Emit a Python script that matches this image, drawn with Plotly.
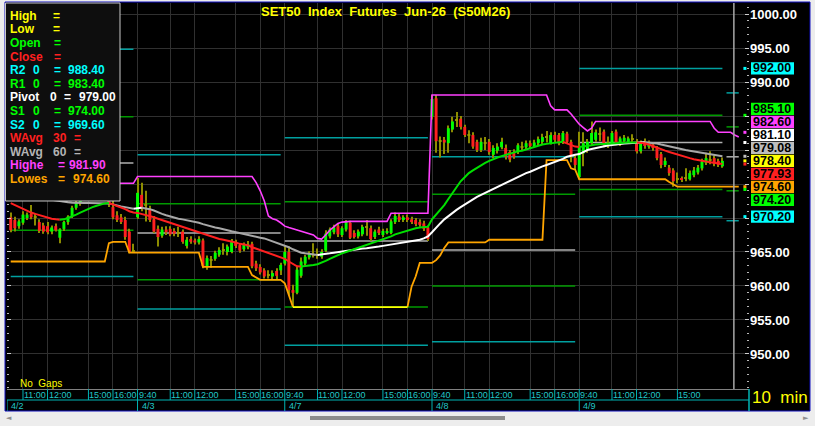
import plotly.graph_objects as go

# ---------------- values ----------------
first_bar = 5                      # first visible 10-min bar (bar 0 = 4/2 9:40)
bars_per_session = 36
session_dates = ['4/2', '4/3', '4/7', '4/8', '4/9']
time_tick_bar = {'9:40': 0, '11:00': 8, '12:00': 14, '15:00': 24, '16:00': 30}
session_time_ticks = [
    ['11:00', '12:00', '15:00', '16:00'],
    ['9:40', '11:00', '12:00', '15:00', '16:00'],
    ['9:40', '11:00', '12:00', '15:00', '16:00'],
    ['9:40', '11:00', '12:00', '15:00', '16:00'],
    ['9:40', '11:00', '12:00', '15:00'],
]

opens = [
    970.1, 969.7, 968.8, 969.3, 970.0, 970.6, 970.1, 969.4, 968.9, 968.8,
    968.0, 968.8, 967.1, 968.4, 969.4, 970.3, 971.5, 972.2, 973.0, 973.8,
    974.3, 974.0, 974.6, 974.1, 973.2, 971.6, 970.4, 970.1, 969.7, 968.0, 965.1,
    970.1, 973.4, 971.9, 971.3, 969.8, 968.4, 967.4, 968.3, 968.4, 968.1,
    967.7, 968.0, 965.9, 966.9, 966.7, 966.4, 966.7, 962.8, 963.8, 964.0,
    964.6, 965.3, 965.0, 965.0, 966.5, 966.0, 965.4, 965.7, 966.2, 963.3,
    962.8, 962.3, 961.5, 961.4, 962.2, 962.3,
    963.3, 965.0, 959.4, 959.0, 961.5, 963.3, 964.2, 964.5, 964.6, 964.3,
    965.2, 967.3, 967.9, 968.8, 967.5, 968.3, 969.3, 967.8, 967.3, 967.6,
    968.6, 968.5, 967.2, 968.3, 967.5, 967.8, 967.8, 969.4, 970.2, 969.7,
    970.1, 969.8, 969.7, 969.4, 969.2, 968.6,
    984.9, 987.6, 981.3, 981.5, 981.0, 983.0, 984.3, 984.6, 983.4, 982.3,
    982.2, 981.2, 980.0, 981.0, 981.2, 979.3, 979.9, 980.4, 980.3, 979.7,
    979.6, 979.7, 980.3, 980.4, 981.0, 980.6, 981.0, 981.2, 981.8, 981.0,
    982.2, 982.2, 981.2, 982.4, 981.2, 978.8,
    976.0, 979.5, 980.0, 981.0, 981.5, 982.4, 982.7, 981.0, 981.0, 982.7,
    981.0, 981.3, 981.2, 981.6, 981.2, 979.8, 981.1, 980.5, 980.8, 980.3,
    979.4, 977.8, 977.4, 977.0, 975.6, 975.8, 975.8, 975.7, 976.3, 976.7,
    977.3, 978.1, 978.6, 978.8, 978.4, 977.6,
]
highs = [
    970.8, 970.2, 969.8, 971.0, 970.8, 971.9, 970.7, 969.8, 969.3, 969.4,
    968.9, 969.2, 968.5, 969.6, 970.4, 971.8, 972.6, 973.4, 974.2, 974.8,
    975.1, 974.9, 975.0, 974.6, 973.6, 972.8, 971.0, 970.6, 970.2, 968.4, 966.2,
    975.9, 975.2, 974.0, 971.8, 970.3, 968.9, 968.7, 968.8, 968.8, 968.5,
    968.7, 968.3, 967.2, 967.3, 967.0, 967.3, 967.0, 964.5, 964.4, 965.2,
    965.7, 966.3, 966.1, 966.9, 966.8, 966.3, 966.4, 966.6, 966.5, 963.7,
    963.2, 962.6, 962.3, 962.3, 962.6, 963.4,
    966.0, 965.8, 960.2, 962.8, 964.2, 964.6, 965.1, 966.3, 965.5, 965.4,
    968.2, 968.6, 969.0, 969.1, 968.8, 969.7, 969.6, 968.2, 968.3, 969.0,
    969.7, 968.9, 968.3, 968.7, 968.4, 968.5, 969.8, 970.8, 970.6, 970.4,
    970.5, 970.2, 970.0, 969.8, 969.6, 968.9,
    988.1, 988.1, 982.0, 981.9, 983.6, 984.9, 985.6, 985.0, 983.7, 982.9,
    982.6, 981.5, 981.8, 981.9, 981.6, 980.7, 981.0, 981.8, 980.8, 980.0,
    980.1, 981.0, 981.2, 981.4, 981.4, 981.5, 982.0, 982.4, 982.8, 982.6,
    982.7, 982.5, 982.8, 982.7, 981.5, 979.2,
    982.7, 982.6, 981.6, 984.2, 983.0, 983.3, 983.0, 982.0, 982.8, 983.0,
    982.0, 982.2, 982.0, 982.3, 981.6, 981.4, 981.7, 981.4, 981.1, 980.6,
    979.7, 978.9, 977.8, 977.3, 976.7, 976.1, 977.3, 977.0, 977.5, 977.8,
    978.7, 979.6, 979.8, 979.2, 978.7, 978.9,
]
lows = [
    967.9, 968.0, 968.4, 969.0, 969.7, 969.8, 968.9, 967.8, 967.7, 967.6,
    967.6, 968.0, 966.3, 968.1, 969.0, 970.0, 971.2, 971.8, 972.6, 973.2,
    973.6, 973.4, 973.8, 972.8, 971.6, 969.8, 969.4, 969.1, 966.8, 964.8, 964.9,
    969.9, 971.0, 969.5, 969.4, 967.8, 965.8, 967.1, 967.5, 967.3, 967.3,
    967.2, 966.2, 965.5, 966.2, 966.1, 966.1, 962.6, 962.4, 962.7, 963.7,
    964.3, 964.6, 964.5, 964.8, 965.6, 964.9, 965.1, 965.4, 962.6, 962.2,
    961.7, 961.1, 961.1, 961.0, 960.9, 961.6,
    963.0, 958.6, 956.9, 958.8, 961.2, 963.0, 963.9, 964.2, 964.0, 964.0,
    965.0, 967.0, 967.6, 967.2, 967.2, 968.0, 966.9, 967.0, 967.0, 967.3,
    967.4, 966.6, 966.9, 967.5, 967.2, 967.6, 967.6, 969.1, 969.4, 969.4,
    969.4, 969.1, 968.8, 968.7, 968.1, 966.6,
    984.5, 979.6, 978.9, 979.4, 979.6, 982.6, 983.4, 983.0, 981.9, 981.0,
    980.2, 979.7, 979.7, 980.0, 979.3, 978.8, 979.5, 980.1, 978.6, 978.2,
    978.7, 979.4, 979.9, 980.1, 980.3, 980.4, 980.7, 980.9, 981.1, 980.8,
    981.1, 980.7, 980.9, 980.9, 978.2, 977.2,
    975.7, 977.6, 979.6, 980.7, 981.2, 981.3, 980.4, 980.3, 980.7, 980.7,
    980.6, 981.0, 980.9, 980.9, 979.5, 979.5, 980.2, 980.2, 979.9, 978.5,
    977.3, 977.5, 976.2, 974.6, 975.1, 975.3, 975.4, 975.5, 976.0, 976.4,
    977.0, 977.8, 977.9, 977.6, 977.5, 977.4,
]
closes = [
    968.2, 968.5, 969.5, 970.5, 970.5, 970.1, 970.0, 968.1, 968.0, 967.9,
    968.6, 968.2, 968.3, 969.4, 970.2, 971.5, 972.2, 973.0, 973.8, 974.3,
    974.0, 974.6, 974.1, 973.2, 972.0, 970.1, 969.7, 969.4, 967.2, 965.0, 965.2,
    973.7, 971.6, 972.0, 969.7, 968.0, 967.2, 968.3, 967.9, 967.6, 967.7,
    967.8, 966.5, 966.8, 966.5, 966.4, 966.9, 962.9, 964.1, 963.7, 964.9,
    965.3, 965.2, 965.8, 966.6, 965.9, 965.2, 966.1, 966.1, 962.9, 962.6,
    962.0, 961.4, 961.6, 961.9, 961.5, 963.1,
    965.0, 959.4, 959.0, 962.4, 963.6, 964.3, 964.7, 964.6, 964.5, 965.0,
    967.7, 968.3, 968.6, 967.6, 968.5, 969.4, 967.1, 967.2, 968.0, 968.7,
    968.7, 966.9, 968.0, 967.8, 968.1, 968.0, 969.5, 970.3, 969.7, 970.1,
    969.7, 969.4, 969.1, 969.0, 968.4, 966.9,
    987.5, 981.3, 981.2, 981.1, 983.2, 984.2, 984.4, 983.4, 982.2, 982.2,
    980.5, 980.0, 981.2, 981.0, 979.7, 980.3, 980.5, 981.2, 979.0, 978.6,
    979.0, 980.7, 980.4, 981.0, 980.6, 981.1, 981.6, 981.9, 981.9, 982.2,
    981.5, 981.0, 982.5, 981.2, 979.0, 977.8,
    980.5, 981.0, 981.2, 982.5, 982.6, 982.3, 980.7, 981.1, 982.5, 981.0,
    981.7, 981.8, 981.7, 981.5, 979.8, 981.0, 980.6, 980.8, 980.3, 978.8,
    977.8, 978.4, 976.6, 975.4, 975.7, 975.6, 975.9, 976.6, 977.0, 977.4,
    978.3, 978.8, 978.5, 978.0, 977.8, 978.4,
]
wavg30 = [
    972.2, 971.9, 971.6, 971.3, 971.0, 970.8, 970.6, 970.4, 970.2, 970.0,
    969.9, 969.8, 969.75, 969.8, 970.0, 970.2, 970.5, 970.8, 971.1, 971.4,
    971.6, 971.8, 972.0, 972.15, 972.2, 972.0, 971.8, 971.6, 971.3, 971.0,
    970.8, 970.75, 970.6, 970.5, 970.3, 970.1, 969.9, 969.7, 969.5, 969.3,
    969.1, 968.9, 968.7, 968.5, 968.3, 968.1, 967.9, 967.6, 967.4, 967.2,
    967.0, 966.9, 966.8, 966.7, 966.5, 966.4, 966.2, 966.1, 966.0, 965.7,
    965.5, 965.3, 965.0, 964.8, 964.6, 964.4, 964.2, 964.0, 963.6, 963.2,
    962.9, 962.85, 962.9, 963.0, 963.1, 963.2, 963.4, 963.7, 964.0, 964.3,
    964.5, 964.8, 965.0, 965.2, 965.4, 965.6, 965.8, 966.0, 966.2, 966.4,
    966.7, 966.9, 967.1, 967.3, 967.6, 967.8, 968.0, 968.2, 968.4, 968.5,
    968.6, 968.7, 968.7, 969.8, 970.5, 971.2, 971.9, 972.8, 973.7, 974.6,
    975.4, 976.0, 976.6, 977.0, 977.4, 977.8, 978.1, 978.4, 978.7, 978.9,
    979.1, 979.3, 979.5, 979.6, 979.8, 979.9, 980.1, 980.3, 980.4, 980.6,
    980.8, 980.9, 981.0, 981.1, 981.15, 981.2, 981.0, 980.7, 980.5, 980.45,
    980.5, 980.55, 980.7, 980.8, 980.85, 980.85, 980.9, 980.95, 981.0, 981.0,
    981.05, 981.1, 981.1, 981.1, 981.05, 981.0, 980.8, 980.55, 980.3, 980.1,
    979.9, 979.7, 979.5, 979.3, 979.1, 978.95, 978.8, 978.65, 978.5, 978.4,
    978.3, 978.2, 978.1, 978.0, 977.93,
]
wavg60 = [
    973.6, 973.5, 973.4, 973.3, 973.2, 973.1, 973.0, 972.9, 972.8, 972.7,
    972.6, 972.5, 972.4, 972.35, 972.3, 972.25, 972.2, 972.2, 972.2, 972.2,
    972.2, 972.2, 972.2, 972.2, 972.15, 972.0, 971.8, 971.7, 971.6, 971.45,
    971.35, 971.45, 971.5, 971.45, 971.3, 971.1, 970.8, 970.6, 970.4, 970.2,
    970.0, 969.9, 969.8, 969.7, 969.6, 969.4, 969.3, 969.1, 968.9, 968.8,
    968.6, 968.5, 968.4, 968.2, 968.05, 967.9, 967.8, 967.7, 967.55, 967.4,
    967.25, 967.1, 967.0, 966.8, 966.6, 966.3, 966.1, 966.0, 965.7, 965.4,
    965.1, 964.9, 964.8, 964.7, 964.6, 964.55, 964.6, 964.7, 964.8, 964.9,
    965.0, 965.1, 965.2, 965.25, 965.3, 965.4, 965.5, 965.55, 965.6, 965.7,
    965.8, 965.9, 966.0, 966.1, 966.2, 966.3, 966.4, 966.5, 966.55, 966.65,
    966.8, 967.0, 967.3, 967.9, 968.6, 969.2, 969.8, 970.3, 970.8, 971.2,
    971.6, 972.0, 972.4, 972.8, 973.1, 973.4, 973.7, 974.0, 974.3, 974.6,
    974.9, 975.2, 975.5, 975.8, 976.1, 976.3, 976.6, 976.8, 977.1, 977.3,
    977.6, 977.8, 978.0, 978.2, 978.5, 978.7, 979.0, 979.2, 979.3, 979.4,
    979.7, 980.0, 980.15, 980.3, 980.45, 980.55, 980.65, 980.75, 980.85, 980.9,
    980.95, 981.0, 981.05, 981.1, 981.12, 981.15, 981.12, 981.05, 980.95, 980.8,
    980.65, 980.5, 980.4, 980.25, 980.15, 980.0, 979.9, 979.8, 979.7, 979.6,
    979.45, 979.35, 979.25, 979.15, 979.08,
]
# highest-high / lowest-low envelopes (drawn 4 bars past the last candle)
highest_env = [
    975.1, 975.1, 975.1, 975.1, 975.1, 975.1, 975.1, 975.1, 975.1, 975.1,
    975.1, 975.1, 975.1, 975.1, 975.1, 975.1, 975.1, 975.1, 975.1, 975.1,
    975.1, 975.1, 975.1, 975.1, 975.1, 975.1, 975.1, 975.1, 975.1, 975.1, 975.1,
    976.1, 976.1, 976.1, 976.1, 976.1, 976.1, 976.1, 976.1, 976.1, 976.1,
    976.1, 976.1, 976.1, 976.1, 976.1, 976.1, 976.1, 976.1, 976.1, 976.1,
    976.1, 976.1, 976.1, 976.1, 976.1, 976.1, 976.1, 976.1, 976.1,
    975.2, 974.0, 972.5, 970.3, 969.9, 969.7, 969.3, 968.8, 968.6, 968.4,
    968.2, 968.1, 967.9, 967.7, 967.5, 967.0, 966.9, 967.5, 968.2, 968.7,
    969.2, 969.4,
    969.5, 969.5, 969.5, 969.5, 969.5, 969.5, 969.5, 969.5, 969.5, 969.5, 969.5,
    970.7, 970.7, 970.7, 970.7, 970.7, 970.7, 970.7, 970.7, 970.7, 970.7,
    988.1, 988.1, 988.1, 988.1, 988.1, 988.1, 988.1, 988.1, 988.1, 988.1,
    988.1, 988.1, 988.1, 988.1, 988.1, 988.1, 988.1, 988.1, 988.1, 988.1,
    988.1, 988.1, 988.1, 988.1, 988.1, 988.1, 988.1, 988.1, 988.1,
    986.5, 985.9, 985.9, 985.9, 985.9, 985.3, 984.5, 983.8, 983.3, 982.8, 983.2,
    984.2, 984.2, 984.2, 984.2, 984.2, 984.2, 984.2, 984.2, 984.2, 984.2,
    984.2, 984.2, 984.2, 984.2, 984.2, 984.2, 984.2, 984.2, 984.2, 984.2,
    984.2, 984.2, 984.2, 984.2, 984.2, 984.2, 984.2, 984.2, 984.2,
    983.2, 982.6, 982.6, 982.6, 982.6, 982.2, 981.9,
]
lowest_env = [
    963.6, 963.6, 963.6, 963.6, 963.6, 963.6, 963.6, 963.6, 963.6, 963.6,
    963.6, 963.6, 963.6, 963.6, 963.6, 963.6, 963.6, 963.6, 963.6, 963.6,
    963.6, 963.6, 963.6, 963.6,
    966.3, 966.5, 966.5, 966.5, 966.5,
    964.9, 964.9, 964.9, 964.9, 964.9, 964.9, 964.9, 964.9, 964.9, 964.9,
    964.9, 964.9, 964.9, 964.9, 964.9, 964.9, 964.9, 964.9,
    962.8, 962.8, 962.8, 962.8, 962.8, 962.8, 962.8, 962.8, 962.8, 962.8,
    962.8, 962.8,
    961.6, 961.2, 960.9, 960.9, 960.9, 960.9, 960.9, 960.9, 960.4, 958.7,
    956.9, 956.9, 956.9, 956.9, 956.9, 956.9, 956.9, 956.9, 956.9, 956.9,
    956.9, 956.9, 956.9, 956.9, 956.9, 956.9, 956.9, 956.9, 956.9, 956.9,
    956.9, 956.9, 956.9, 956.9, 956.9, 956.9, 956.9, 956.9, 956.9,
    959.9, 961.4, 963.4, 963.4, 963.4, 963.4, 963.8, 964.5, 965.6,
    966.4, 966.4, 966.4, 966.4, 966.4, 966.4, 966.4, 966.4, 966.4, 966.4,
    966.8, 966.8, 966.8, 966.8, 966.8, 966.8, 966.8, 966.8, 966.8, 966.8,
    966.8, 966.8, 966.8, 966.8,
    978.5, 978.5, 978.5, 978.5, 978.5, 978.5, 977.3, 977.1,
    975.7, 975.7, 975.7, 975.7, 975.7, 975.7, 975.7, 975.7, 975.7, 975.7,
    975.7, 975.7, 975.7, 975.7, 975.7, 975.7, 975.7, 975.7, 975.7, 975.7,
    975.7, 975.7,
    975.3, 974.9,
    974.6, 974.6, 974.6, 974.6, 974.6, 974.6, 974.6, 974.6, 974.6, 974.6,
    974.6, 974.6, 974.6, 974.6, 974.6, 974.6,
]
# daily floor pivots, one value per session
pivot_r2 = [994.8, 979.3, 981.8, 979.0, 992.0]
pivot_r1 = [984.9, 972.1, 972.4, 973.5, 985.1]
pivot_p = [978.1, 967.8, 966.6, 965.3, 981.1]
pivot_s1 = [968.2, 960.9, 956.9, 960.0, 974.2]
pivot_s2 = [961.4, 956.6, 951.3, 951.8, 970.2]
# pivots projected for the next session
next_r2, next_r1, next_p, next_s1, next_s2 = 988.40, 983.40, 979.00, 974.00, 969.60
cursor_bar = 181.8
y_ticks = [950, 955, 960, 965, 970, 975, 980, 985, 990, 995, 1000]

# ---------------- styling ----------------
FONT = 'Liberation Sans, Arial, sans-serif'
UP, DOWN, WICK, DOJI = '#00ff00', '#ff2020', '#8c8c00', '#9a9a00'
TEAL, DKGREEN, PIVGREY = '#00a0a0', '#009a00', '#b0b0b0'
MAGENTA, ORANGE, YELLOW = '#ff40ff', '#ffa500', '#ffff00'
AXCYAN = '#00b4b4'

W, H = 815, 426
PL, PR, PT, PB = 7, 749, 3, 389          # plot area in pixels
Y_LO, Y_HI = 944.85, 1001.62
X_LO, X_HI = 4.09, 185.5


def pxx(px):
    return (px - PL) / (PR - PL)


def pxy(py):
    return (PB - py) / (PB - PT)


units_per_px = (Y_HI - Y_LO) / (PB - PT)

n = len(closes)
bar_x = list(range(first_bar, first_bar + n))
env_x = list(range(first_bar, first_bar + len(highest_env)))
last_bar = bar_x[-1]

fig = go.Figure()

# candle wicks and bodies
fig.add_trace(go.Bar(x=bar_x, y=[h - l for h, l in zip(highs, lows)], base=lows,
                     width=0.25, marker=dict(color=WICK, line=dict(width=0)),
                     hoverinfo='skip', showlegend=False))
body_base, body_h, body_col = [], [], []
for o, c in zip(opens, closes):
    body_base.append(min(o, c))
    body_h.append(max(abs(c - o), 0.15))
    body_col.append(DOJI if abs(c - o) < 0.15 else (UP if c > o else DOWN))
fig.add_trace(go.Bar(x=bar_x, y=body_h, base=body_base, width=0.72,
                     marker=dict(color=body_col, line=dict(width=0)),
                     hoverinfo='skip', showlegend=False))


def colored_runs(xs, ys, color_of):
    groups = {}
    prev = None
    for k in range(1, len(xs)):
        col = color_of(k, prev)
        gx, gy = groups.setdefault(col, ([], []))
        if col != prev:
            if gx:
                gx.append(None)
                gy.append(None)
            gx.append(xs[k - 1])
            gy.append(ys[k - 1])
        gx.append(xs[k])
        gy.append(ys[k])
        prev = col
    return groups


def slope_colors(ys, up, down):
    def f(k, prev):
        d = ys[k] - ys[k - 1]
        if d > 0:
            return up
        if d < 0:
            return down
        return prev or down
    return f


def add_runs(groups, width):
    for col, (gx, gy) in groups.items():
        fig.add_trace(go.Scatter(x=gx, y=gy, mode='lines', line=dict(color=col, width=width),
                                 hoverinfo='skip', showlegend=False, connectgaps=False))


# highest / lowest envelopes
fig.add_trace(go.Scatter(x=env_x, y=highest_env, mode='lines', line=dict(color=MAGENTA, width=1.6),
                         hoverinfo='skip', showlegend=False))
low_min = min(lowest_env)
add_runs(colored_runs(env_x, lowest_env,
                      lambda k, p: YELLOW if lowest_env[k] == low_min and lowest_env[k - 1] == low_min else ORANGE),
         1.8)
# weighted averages coloured by slope
add_runs(colored_runs(bar_x, wavg60, slope_colors(wavg60, '#ffffff', '#a8a8a8')), 2)
add_runs(colored_runs(bar_x, wavg30, slope_colors(wavg30, '#00e000', '#ff2020')), 2)

shapes = []
# daily pivot segments
for d in range(len(session_dates)):
    s0 = max(d * bars_per_session, first_bar)
    s1 = min(d * bars_per_session + bars_per_session - 1, last_bar)
    for val, col in ((pivot_r2[d], TEAL), (pivot_r1[d], DKGREEN), (pivot_p[d], PIVGREY),
                     (pivot_s1[d], DKGREEN), (pivot_s2[d], TEAL)):
        shapes.append(dict(type='line', xref='x', yref='y', x0=s0, x1=s1, y0=val, y1=val,
                           line=dict(color=col, width=1.5), layer='between'))
for val, col in ((next_r2, TEAL), (next_r1, DKGREEN), (next_p, PIVGREY), (next_s1, DKGREEN), (next_s2, TEAL)):
    shapes.append(dict(type='line', xref='x', yref='y', x0=last_bar + 1, x1=last_bar + 4, y0=val, y1=val,
                       line=dict(color=col, width=1.5), layer='between'))
shapes.append(dict(type='line', xref='x', yref='paper', x0=cursor_bar, x1=cursor_bar, y0=0, y1=1,
                   line=dict(color='#a8a8a8', width=1.5), layer='above'))

# outer frame / background of the whole chart window
shapes.insert(0, dict(type='rect', xref='paper', yref='paper', x0=pxx(5), x1=pxx(810), y0=pxy(411), y1=pxy(2),
                      fillcolor='black', line=dict(color='#1010c0', width=1), layer='below'))

# time axis rows
AXFONT = dict(family=FONT, size=9, color='#20c8c8')
x_ticks, x_tick_text = [], []
for d, labels in enumerate(session_time_ticks):
    for lab in labels:
        x_ticks.append(d * bars_per_session + time_tick_bar[lab])
        x_tick_text.append(lab)
annotations = []
for xv, lab in zip(x_ticks, x_tick_text):
    shapes.append(dict(type='line', xref='x', yref='paper', x0=xv, x1=xv, y0=pxy(400), y1=pxy(389),
                       line=dict(color=AXCYAN, width=1)))
    annotations.append(dict(x=xv, xref='x', y=pxy(395), yref='paper', text=lab, showarrow=False,
                            xanchor='left', yanchor='middle', xshift=-1, font=AXFONT))
for d, lab in enumerate(session_dates):
    xv = max(d * bars_per_session, X_LO)
    shapes.append(dict(type='line', xref='x', yref='paper', x0=xv, x1=xv, y0=pxy(411), y1=pxy(400),
                       line=dict(color=AXCYAN, width=1)))
    annotations.append(dict(x=xv, xref='x', y=pxy(406), yref='paper', text=lab, showarrow=False,
                            xanchor='left', yanchor='middle', xshift=2, font=AXFONT))
shapes.append(dict(type='line', xref='paper', yref='paper', x0=0, x1=1, y0=pxy(400), y1=pxy(400),
                   line=dict(color=AXCYAN, width=1)))
shapes.append(dict(type='line', xref='paper', yref='paper', x0=1, x1=1, y0=pxy(411), y1=pxy(389),
                   line=dict(color=AXCYAN, width=1.5)))

# price tags on the right
tags = [
    (pivot_r2[-1], '#00ffff'), (pivot_r1[-1], '#00ff00'),
    (highest_env[last_bar - first_bar], MAGENTA), (pivot_p[-1], '#ffffff'),
    (wavg60[-1], '#bdbdbd'), (closes[-1], YELLOW), (wavg30[-1], '#ff2020'),
    (lowest_env[last_bar - first_bar], ORANGE), (pivot_s1[-1], '#00ff00'), (pivot_s2[-1], '#00ffff'),
]
tags.sort(key=lambda t: -t[0])
gap = 13 * units_per_px
anchor = [t[0] for t in tags].index(closes[-1])
pos = [t[0] for t in tags]
for j in range(anchor - 1, -1, -1):
    pos[j] = max(tags[j][0], pos[j + 1] + gap)
for j in range(anchor + 1, len(tags)):
    pos[j] = min(tags[j][0], pos[j - 1] - gap)
half = 6.2 * units_per_px
for (val, col), p in zip(tags, pos):
    shapes.append(dict(type='rect', xref='paper', yref='y', x0=pxx(751), x1=pxx(794), y0=p - half, y1=p + half,
                       fillcolor=col, line=dict(width=0), layer='above'))
    annotations.append(dict(x=pxx(751.5), xref='paper', y=p, yref='y', text='<b>%.2f</b>' % val,
                            showarrow=False, xanchor='left', yanchor='middle', borderpad=0,
                            font=dict(family=FONT, size=12.5, color='black')))
fig.add_trace(go.Scatter(x=[X_HI - 1.0] * len(tags), y=[t[0] for t in tags], mode='markers',
                         marker=dict(symbol='square', size=3, color=[t[1] for t in tags]),
                         hoverinfo='skip', showlegend=False))
# axis labels hidden behind the price tags
tick_text = []
for v in y_ticks:
    covered = any(abs(v - p) < 12 * units_per_px for p in pos)
    tick_text.append('' if covered else '<b>%.2f</b>' % v)

# info box (top left)
shapes.append(dict(type='rect', xref='paper', yref='paper', x0=pxx(5.5), x1=pxx(120), y0=pxy(201), y1=pxy(3),
                   fillcolor='#0e0e0e', line=dict(color='#c8c8c8', width=1), layer='above'))
legend_rows = [
    (YELLOW, [('High', 9), ('=', 52)]),
    (YELLOW, [('Low', 9), ('=', 52)]),
    ('#00ff00', [('Open', 9), ('=', 53)]),
    ('#ff2020', [('Close', 9), ('=', 53)]),
    ('#00ffff', [('R2', 9), ('0', 32), ('=', 53), ('%.2f' % next_r2, 67)]),
    ('#00ff00', [('R1', 9), ('0', 32), ('=', 53), ('%.2f' % next_r1, 67)]),
    ('#ffffff', [('Pivot', 9), ('0', 49), ('=', 63), ('%.2f' % next_p, 78)]),
    ('#00ff00', [('S1', 9), ('0', 32), ('=', 53), ('%.2f' % next_s1, 67)]),
    ('#00ffff', [('S2', 9), ('0', 32), ('=', 53), ('%.2f' % next_s2, 67)]),
    ('#ff2020', [('WAvg', 9), ('30', 52), ('=', 73)]),
    ('#b4b4b4', [('WAvg', 9), ('60', 52), ('=', 73)]),
    (MAGENTA, [('Highe', 9), ('=', 57), ('%.2f' % highest_env[-1], 68)]),
    (ORANGE, [('Lowes', 9), ('=', 57), ('%.2f' % lowest_env[-1], 72)]),
]
for r, (col, pieces) in enumerate(legend_rows):
    yc = 15.8 + r * 13.6
    for txt, xpx in pieces:
        annotations.append(dict(x=pxx(xpx), xref='paper', y=pxy(yc), yref='paper', text='<b>%s</b>' % txt,
                                showarrow=False, xanchor='left', yanchor='middle', borderpad=0,
                                font=dict(family=FONT, size=12, color=col)))

# titles and captions
annotations.append(dict(x=pxx(385), xref='paper', y=pxy(12), yref='paper',
                        text='<b>SET50\u00a0 Index\u00a0 Futures\u00a0 Jun-26\u00a0 (S50M26)</b>',
                        showarrow=False, xanchor='center', yanchor='middle',
                        font=dict(family=FONT, size=13, color=YELLOW)))
annotations.append(dict(x=pxx(18), xref='paper', y=pxy(383), yref='paper', text='No\u00a0 Gaps',
                        showarrow=False, xanchor='left', yanchor='middle',
                        font=dict(family=FONT, size=10, color=YELLOW)))
annotations.append(dict(x=pxx(750), xref='paper', y=pxy(397), yref='paper', text='10\u00a0 min',
                        showarrow=False, xanchor='left', yanchor='middle',
                        font=dict(family=FONT, size=17, color=YELLOW)))

# window scrollbar
shapes.append(dict(type='rect', xref='paper', yref='paper', x0=pxx(310), x1=pxx(505), y0=pxy(420), y1=pxy(416),
                   fillcolor='#8c8c8c', line=dict(width=0)))
annotations.append(dict(x=pxx(9), xref='paper', y=pxy(418), yref='paper', text='\u25c4', showarrow=False,
                        xanchor='center', yanchor='middle', font=dict(family='DejaVu Sans', size=7, color='#909090')))
annotations.append(dict(x=pxx(806), xref='paper', y=pxy(418), yref='paper', text='\u25ba', showarrow=False,
                        xanchor='center', yanchor='middle', font=dict(family='DejaVu Sans', size=7, color='#909090')))

fig.update_layout(
    width=W, height=H,
    margin=dict(l=PL, r=W - PR, t=PT, b=H - PB, pad=0, autoexpand=False),
    paper_bgcolor='#ededed', plot_bgcolor='black',
    barmode='overlay', showlegend=False,
    shapes=shapes, annotations=annotations,
    xaxis=dict(range=[X_LO, X_HI], tickvals=x_ticks, showticklabels=False, ticks='',
               showgrid=True, gridcolor='#303030', gridwidth=1, zeroline=False,
               showline=True, linecolor='#808080', linewidth=1, fixedrange=True, automargin=False),
    yaxis=dict(range=[Y_LO, Y_HI], side='right', tickvals=y_ticks, ticktext=tick_text,
               tickfont=dict(family=FONT, size=13, color='white'),
               showgrid=True, gridcolor='#303030', gridwidth=1, zeroline=False,
               ticks='inside', ticklen=4, tickcolor='#d0d0d0', mirror='ticks', showline=False,
               minor=dict(dtick=1, tick0=0, ticks='inside', ticklen=2, tickcolor='#b8b8b8', showgrid=False),
               fixedrange=True, automargin=False),
)

fig.write_html('out.html', config={'displayModeBar': False},
               post_script="document.body.style.margin='0';document.body.style.overflow='hidden';")
